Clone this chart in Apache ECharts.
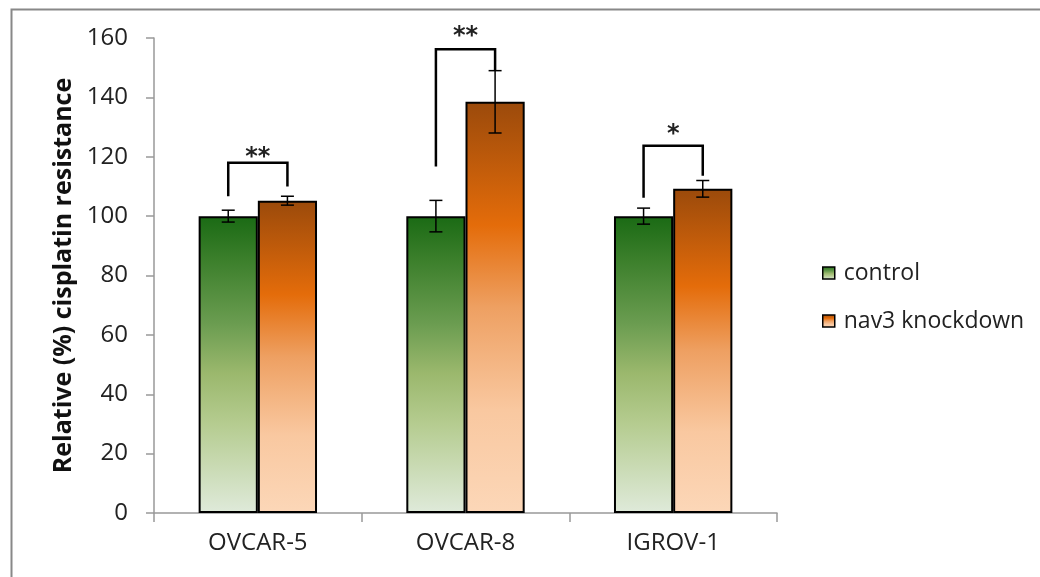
<!DOCTYPE html>
<html>
<head>
<meta charset="utf-8">
<script src="https://cdn.jsdelivr.net/npm/echarts@6/dist/echarts.min.js"></script>
<style>
  html, body { margin: 0; padding: 0; background: #fff; }
  #chart { width: 1040px; height: 577px; }
</style>
</head>
<body>
<div id="chart"></div>
<script>
// Cell lines and measured relative cisplatin resistance (%)
const categories = ['OVCAR-5', 'OVCAR-8', 'IGROV-1'];
const controlValues = [100, 100, 100];
const controlErrors = [2.0, 5.3, 2.7];
const knockdownValues = [105.2, 138.5, 109.2];
const knockdownErrors = [1.5, 10.5, 2.8];
const yTicks = [0, 20, 40, 60, 80, 100, 120, 140, 160];

// Significance brackets: top of bracket, end of left leg, end of right leg,
// and the height at which the asterisks sit
const sigLabels = ['**', '**', '*'];
const bracketTop = [118, 156.2, 123.7];
const bracketLeftEnd = [106.7, 116.7, 106.2];
const bracketRightEnd = [110.0, 149.2, 113.6];
const sigLabelLevel = [121.3, 162.1, 129.0];

const CAT_GAP = 0.43;            // share of each band left empty
const BAR_SHARE = (1 - CAT_GAP) / 2;
const FONT = '"Open Sans", "Noto Sans", sans-serif';

const greenFill = new echarts.graphic.LinearGradient(0, 0, 0, 1, [
  { offset: 0, color: '#1a6a14' },
  { offset: 0.14, color: '#3a7e2a' },
  { offset: 0.36, color: '#6a9c50' },
  { offset: 0.53, color: '#9bb86d' },
  { offset: 0.7, color: '#b5cc90' },
  { offset: 1, color: '#dfeada' }
]);
const orangeFill = new echarts.graphic.LinearGradient(0, 0, 0, 1, [
  { offset: 0, color: '#9b4a0b' },
  { offset: 0.3, color: '#e46c0a' },
  { offset: 0.5, color: '#eea062' },
  { offset: 0.75, color: '#f9c8a0' },
  { offset: 1, color: '#fcd7b8' }
]);

function errorBarItem(values, errors, side) {
  return function (params, api) {
    const i = api.value(0);
    const band = api.size([1, 0])[0];
    const barW = band * BAR_SHARE;
    const c = api.coord([i, values[i]]);
    const x = c[0] + side * barW / 2;
    const hi = api.coord([i, values[i] + errors[i]])[1];
    const lo = api.coord([i, values[i] - errors[i]])[1];
    const cap = 6.5;
    const st = { stroke: '#000', lineWidth: 1.5 };
    return {
      type: 'group',
      children: [
        { type: 'line', shape: { x1: x, y1: hi, x2: x, y2: lo }, style: st },
        { type: 'line', shape: { x1: x - cap, y1: hi, x2: x + cap, y2: hi }, style: st },
        { type: 'line', shape: { x1: x - cap, y1: lo, x2: x + cap, y2: lo }, style: st }
      ]
    };
  };
}

function bracketItem(params, api) {
  const i = api.value(0);
  const band = api.size([1, 0])[0];
  const barW = band * BAR_SHARE;
  const cx = api.coord([i, 0])[0];
  const xl = cx - barW / 2;
  const xr = cx + barW / 2;
  const yt = api.coord([i, bracketTop[i]])[1];
  const yl = api.coord([i, bracketLeftEnd[i]])[1];
  const yr = api.coord([i, bracketRightEnd[i]])[1];
  const ys = api.coord([i, sigLabelLevel[i]])[1];
  return {
    type: 'group',
    children: [
      {
        type: 'polyline',
        shape: { points: [[xl, yl], [xl, yt], [xr, yt], [xr, yr]] },
        style: { stroke: '#000', lineWidth: 2.5, fill: null, lineJoin: 'miter' }
      },
      {
        type: 'text',
        style: {
          x: cx, y: ys + 5, text: sigLabels[i],
          fill: '#222', font: 'bold 24px "DejaVu Sans"',
          align: 'center', verticalAlign: 'middle'
        }
      }
    ]
  };
}

const chart = echarts.init(document.getElementById('chart'), null, { renderer: 'canvas' });
const idx = categories.map((_, i) => i);

chart.setOption({
  animation: false,
  backgroundColor: '#fff',
  graphic: [{
    type: 'rect', left: 9, top: 7, z: 100,
    shape: { width: 1100, height: 700 },
    style: { fill: null, stroke: '#888', lineWidth: 2 }
  }],
  grid: { left: 154, right: 263, top: 38, bottom: 64 },
  legend: {
    orient: 'vertical', left: 817, top: 256, itemGap: 24,
    itemWidth: 12, itemHeight: 12, icon: 'rect',
    itemStyle: { borderColor: '#000', borderWidth: 1.5 },
    textStyle: { fontFamily: FONT, fontSize: 23, lineHeight: 24, color: '#222', padding: [0, 0, 0, 4] },
    data: ['control', 'nav3 knockdown']
  },
  xAxis: {
    type: 'category', data: categories,
    axisLine: { lineStyle: { color: '#999', width: 1.5 } },
    axisTick: { show: true, alignWithLabel: false, length: 9, lineStyle: { color: '#999', width: 1.5 } },
    axisLabel: { fontFamily: FONT, fontSize: 24, color: '#222', margin: 18 }
  },
  yAxis: {
    type: 'value', min: yTicks[0], max: yTicks[yTicks.length - 1], interval: 20,
    name: 'Relative (%) cisplatin resistance',
    nameLocation: 'middle', nameGap: 72,
    nameTextStyle: { fontFamily: FONT, fontWeight: 'bold', fontSize: 25, color: '#111' },
    axisLine: { show: true, lineStyle: { color: '#999', width: 1.5 } },
    axisTick: { show: true, inside: false, length: 8, lineStyle: { color: '#999', width: 1.5 } },
    splitLine: { show: false },
    axisLabel: { fontFamily: FONT, fontSize: 24, color: '#222', margin: 26 }
  },
  series: [
    {
      name: 'control', type: 'bar', data: controlValues,
      barGap: '0%', barCategoryGap: (CAT_GAP * 100) + '%',
      itemStyle: { color: greenFill, borderColor: '#000', borderWidth: 2 }
    },
    {
      name: 'nav3 knockdown', type: 'bar', data: knockdownValues,
      barGap: '0%', barCategoryGap: (CAT_GAP * 100) + '%',
      itemStyle: { color: orangeFill, borderColor: '#000', borderWidth: 2 }
    },
    {
      type: 'custom', name: 'control error', z: 5,
      renderItem: errorBarItem(controlValues, controlErrors, -1),
      data: idx.map(i => [i, controlValues[i]])
    },
    {
      type: 'custom', name: 'knockdown error', z: 5,
      renderItem: errorBarItem(knockdownValues, knockdownErrors, 1),
      data: idx.map(i => [i, knockdownValues[i]])
    },
    {
      type: 'custom', name: 'significance', z: 6,
      renderItem: bracketItem,
      data: idx.map(i => [i, bracketTop[i]])
    }
  ]
});
</script>
</body>
</html>
